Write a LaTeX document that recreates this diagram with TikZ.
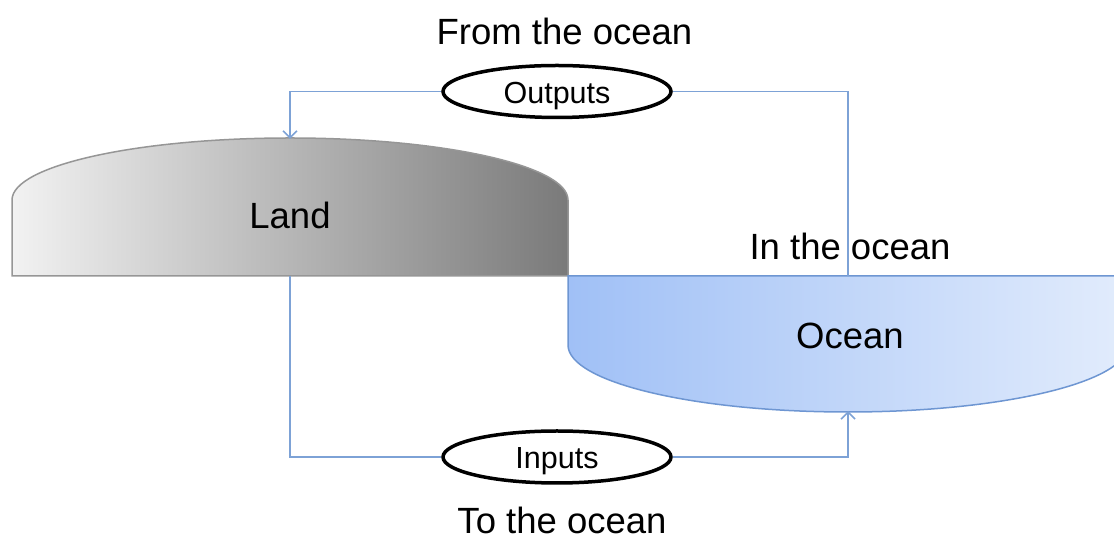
\documentclass[tikz,border=0pt]{standalone}
\usepackage{fontspec}
\setmainfont{Liberation Sans}
\usetikzlibrary{shapes.geometric,arrows.meta}
\definecolor{conn}{RGB}{125,162,214}
\definecolor{landL}{RGB}{242,242,242}
\definecolor{landR}{RGB}{122,122,122}
\definecolor{landB}{RGB}{150,150,150}
\definecolor{oceanL}{RGB}{160,192,246}
\definecolor{oceanR}{RGB}{226,236,252}
\definecolor{oceanB}{RGB}{110,150,210}
\tikzset{
  bigtext/.style={font=\fontsize{36.5}{40}\selectfont, inner sep=0pt, anchor=base},
  oval/.style={ellipse, draw=black, line width=3.5pt, fill=white, minimum width=228pt, minimum height=52pt, inner sep=0pt, text height=30pt, text depth=6pt, font=\fontsize{30.5}{32}\selectfont},
  connector/.style={draw=conn, line width=1.6pt},
  tip/.style={-{Straight Barb[length=7pt,width=14pt,line width=1.6pt]}},
  landshape/.style={left color=landL, right color=landR, draw=landB, line width=1.5pt},
  oceanshape/.style={left color=oceanL, right color=oceanR, draw=oceanB, line width=1.5pt}
}
\begin{document}
\begin{tikzpicture}[x=1pt,y=1pt]
\useasboundingbox (0,0) rectangle (1114,540);
\begin{scope}
\clip (0,0) rectangle (1114,540);
\path[landshape] (12,264) -- (12,340) arc[start angle=180,end angle=0,x radius=278,y radius=62] -- (568,264) -- cycle;
\path[oceanshape] (568,264) -- (568,195) arc[start angle=180,end angle=360,x radius=280,y radius=67] -- (1128,264) -- cycle;
\end{scope}
% anchor points
\coordinate (landtop) at (290,401);
\coordinate (landbot) at (290,264);
\coordinate (oceantop) at (848,264);
\coordinate (oceanbot) at (848,129);
% ovals
\node[oval] (outputs) at (557,448.5) {Outputs};
\node[oval] (inputs) at (557,83) {Inputs};
% connectors
\draw[connector,tip] (outputs.west) -| (landtop);
\draw[connector] (outputs.east) -| (oceantop);
\draw[connector] (landbot) |- (inputs.west);
\draw[connector,tip] (inputs.east) -| (oceanbot);
% texts
\node[bigtext] (from) at (564.5,495) {From the ocean};
\node[bigtext] (land) at (290,311) {Land};
\node[bigtext] (inocean) at (850,280) {In the ocean};
\node[bigtext] (ocean) at (850,191) {Ocean};
\node[bigtext] (to) at (562,6) {To the ocean};
\end{tikzpicture}
\end{document}
